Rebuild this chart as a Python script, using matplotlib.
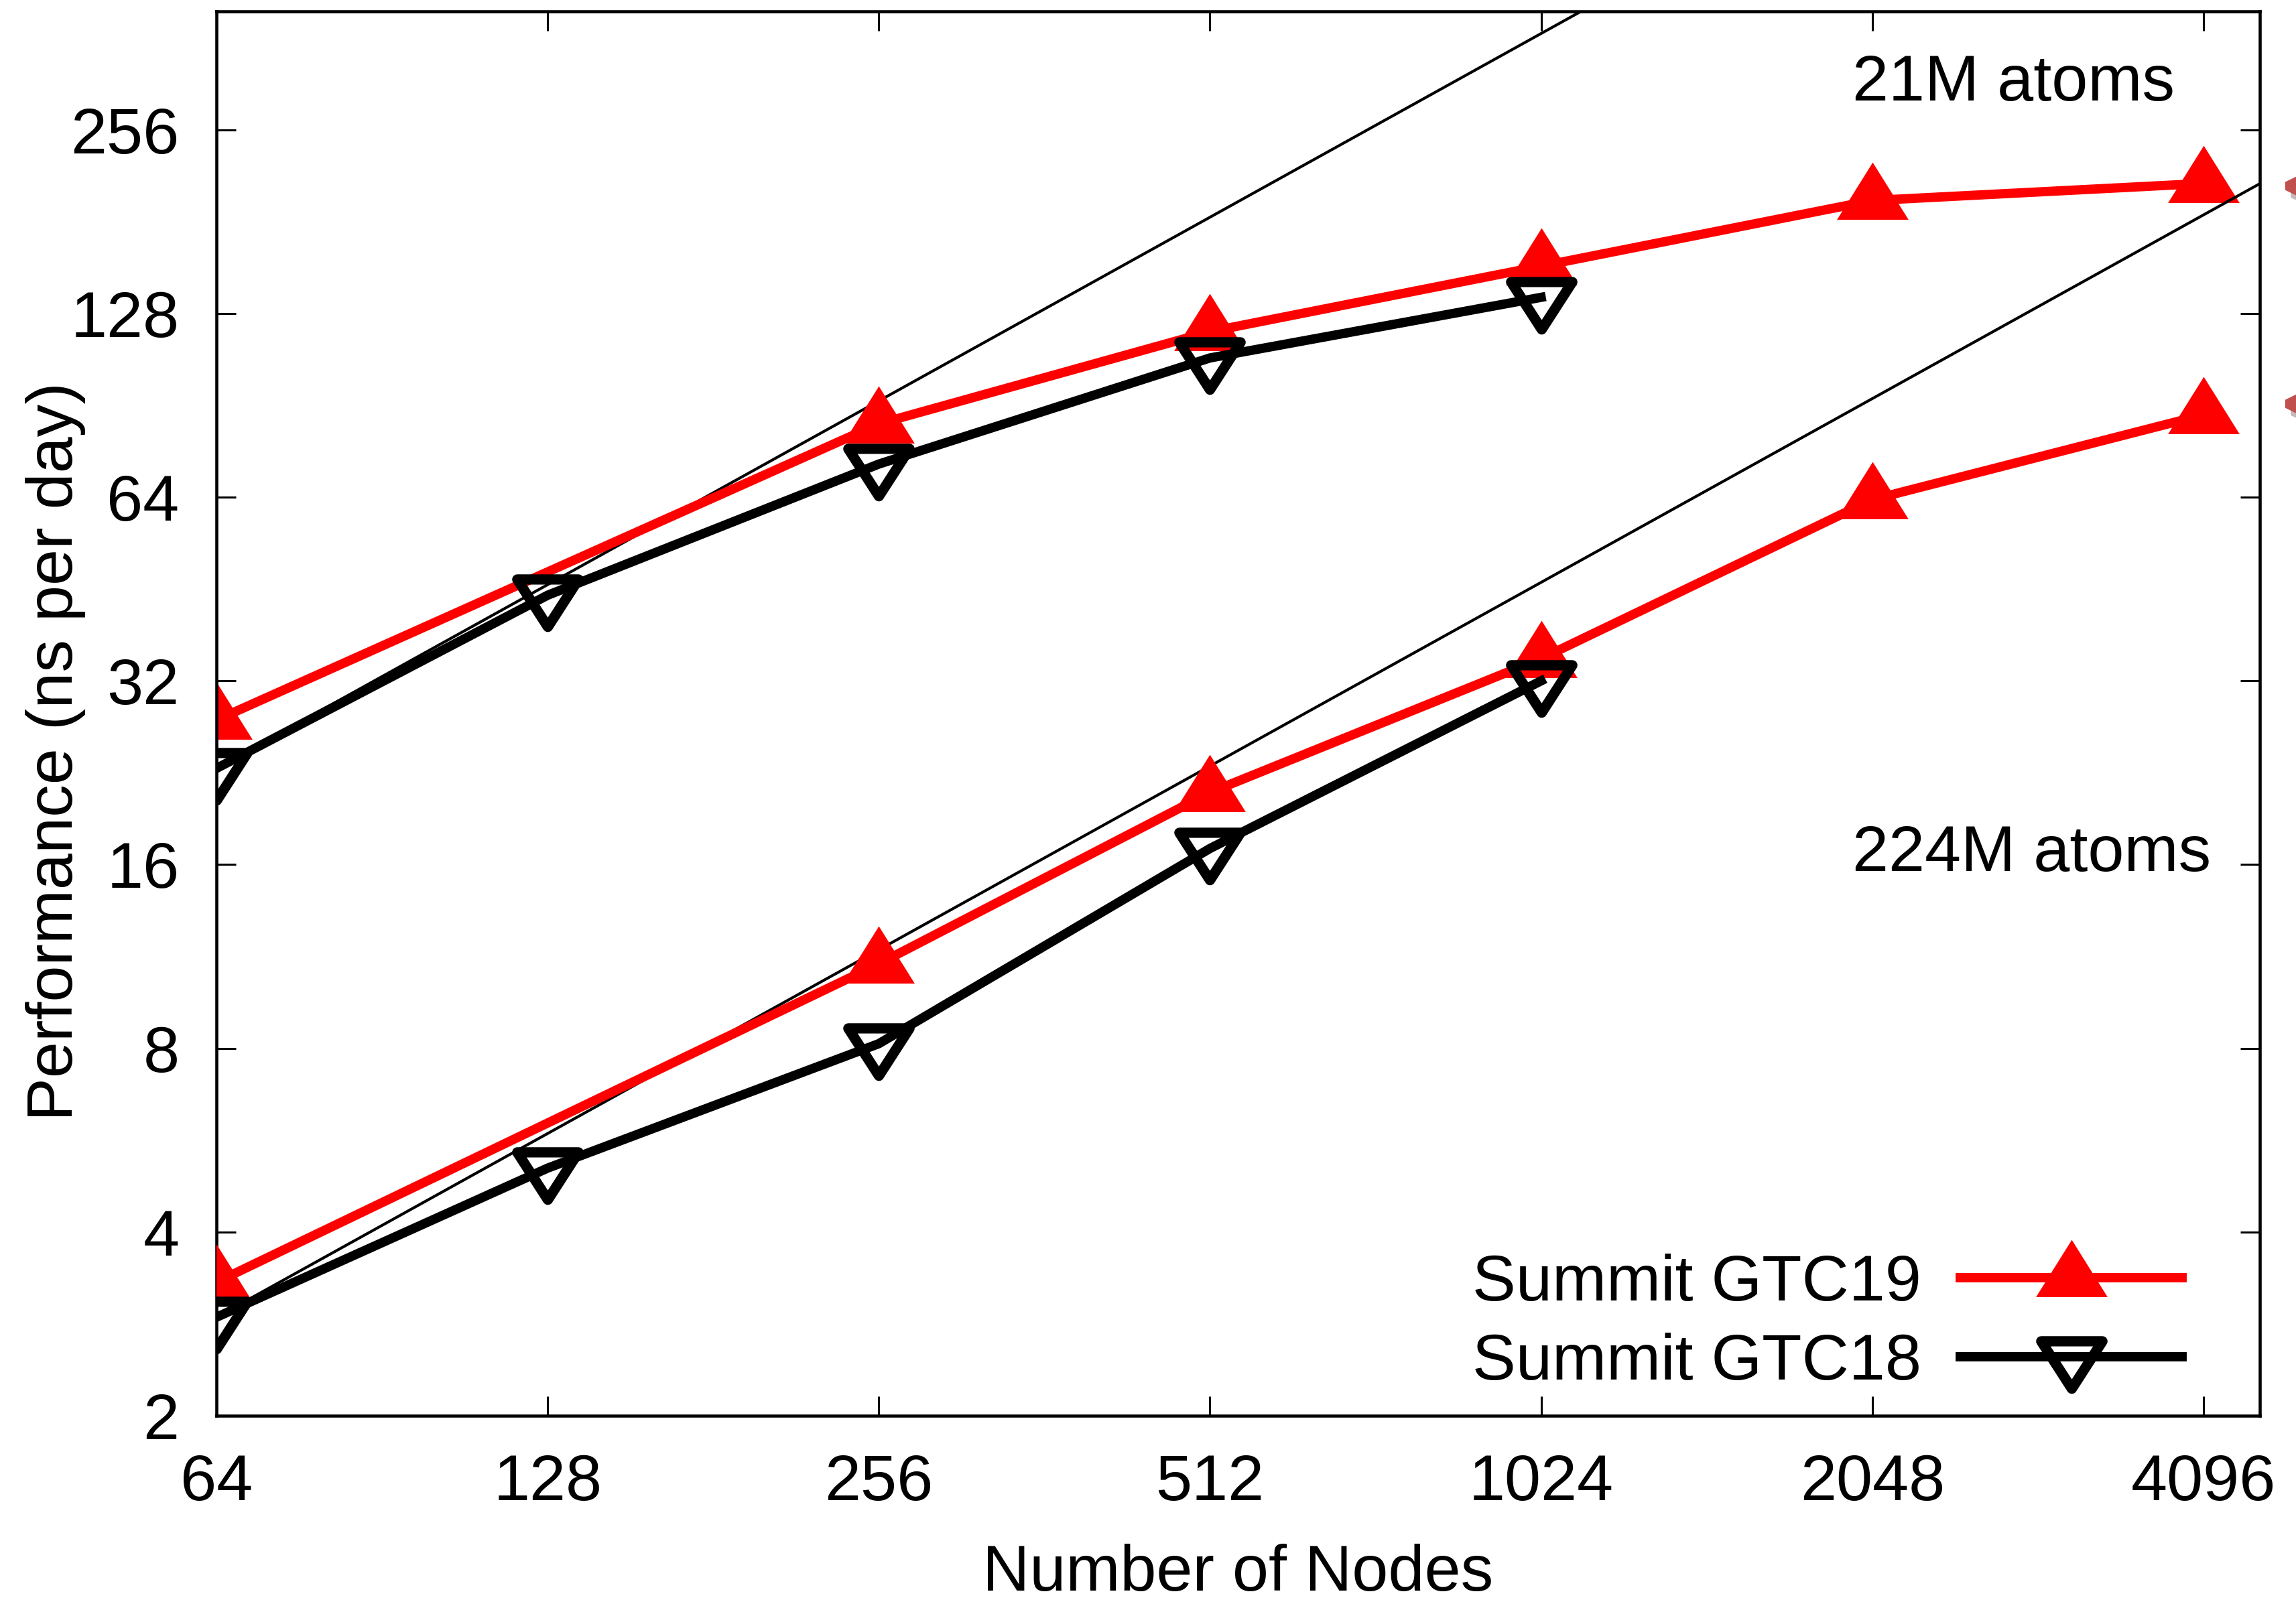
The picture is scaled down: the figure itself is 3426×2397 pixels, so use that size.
import numpy as np
import matplotlib
matplotlib.use("Agg")
import matplotlib.pyplot as plt
from matplotlib.path import Path
from matplotlib.patches import Polygon
from matplotlib.transforms import IdentityTransform
import matplotlib.patheffects as pe

plt.rcParams['font.family'] = ['Liberation Sans', 'DejaVu Sans']

# data (ns per day)
nodes_gtc19 = [64, 256, 512, 1024, 2048, 4096]
nodes_gtc18 = [64, 128, 256, 512, 1024]
gtc19_21m = [27.6, 84.4, 119.5, 153.0, 196.0, 209.0]
gtc18_21m = [23.0, 44.2, 72.5, 108.2, 136.0]
gtc19_224m = [3.31, 11.0, 21.0, 34.8, 63.4, 87.3]
gtc18_224m = [2.90, 5.09, 8.14, 17.0, 32.0]

xticks = [64, 128, 256, 512, 1024, 2048, 4096]
yticks = [2, 4, 8, 16, 32, 64, 128, 256]

# levels of the (cut-off) callout arrows at the right edge
arrow_y = [207, 91]

# gnuplot-like triangles, centred on their centroid
W, H = 2.0, 1.6
up_tri = Path([(0, 2 * H / 3), (-W / 2, -H / 3), (W / 2, -H / 3), (0, 2 * H / 3)],
              [Path.MOVETO, Path.LINETO, Path.LINETO, Path.CLOSEPOLY])
W2, H2 = 2.0, 1.55
down_tri = Path([(0, -2 * H2 / 3), (-W2 / 2, H2 / 3), (W2 / 2, H2 / 3), (0, -2 * H2 / 3)],
                [Path.MOVETO, Path.LINETO, Path.LINETO, Path.CLOSEPOLY])

fig = plt.figure(figsize=(17.13, 11.985), dpi=200)
ax = fig.add_axes([0.0943, 0.1185, 0.8899, 0.8744])

red_kw = dict(color='#ff0000', lw=5, marker=up_tri, ms=41, mew=0, solid_joinstyle='miter')
blk_kw = dict(color='black', lw=5, marker=down_tri, ms=34, mew=5.5, mfc='none',
              mec='black', solid_joinstyle='miter')

# ideal scaling lines from the GTC18 64-node runs
ideal_x = np.array([64, 8192])
ax.plot(ideal_x, gtc18_21m[0] * ideal_x / 64, color='black', lw=1.5, zorder=1)
ax.plot(nodes_gtc19, gtc19_21m, zorder=2, **red_kw)
ax.plot(nodes_gtc18, gtc18_21m, zorder=3, **blk_kw)
ax.plot(ideal_x, gtc18_224m[0] * ideal_x / 64, color='black', lw=1.5, zorder=4)
ax.plot(nodes_gtc19, gtc19_224m, zorder=5, label='Summit GTC19', **red_kw)
ax.plot(nodes_gtc18, gtc18_224m, zorder=6, label='Summit GTC18', **blk_kw)

ax.set_xscale('log', base=2)
ax.set_yscale('log', base=2)
ax.set_xlim(64, 4608)
ax.set_ylim(2, 400)
ax.set_xticks(xticks)
ax.set_xticklabels([str(v) for v in xticks])
ax.set_yticks(yticks)
ax.set_yticklabels([str(v) for v in yticks])
ax.minorticks_off()
ax.tick_params(axis='both', which='major', direction='in', top=True, right=True,
               length=10.5, width=1.1, labelsize=35)
ax.tick_params(axis='x', pad=20)
ax.tick_params(axis='y', pad=20)
for s in ax.spines.values():
    s.set_linewidth(1.65)

ax.set_xlabel('Number of Nodes', fontsize=35)
ax.set_ylabel('Performance (ns per day)', fontsize=35)
ax.xaxis.set_label_coords(0.5, -0.091)
ax.yaxis.set_label_coords(-0.064, 0.473)

ax.text(0.8006, 0.9485, '21M atoms', transform=ax.transAxes, fontsize=35,
        ha='left', va='center')
ax.text(0.8006, 0.400, '224M atoms', transform=ax.transAxes, fontsize=35,
        ha='left', va='center')

ax.legend(loc='lower right', bbox_to_anchor=(0.962, 0.016), frameon=False,
          markerfirst=False, numpoints=1, fontsize=35, handlelength=3.4,
          handletextpad=0.6, labelspacing=0.29, borderpad=0, borderaxespad=0)

# arrow tips poking in from the right edge (rest of the callouts is off the canvas)
for v in arrow_y:
    x0, y0 = ax.transData.transform((4860, v))
    tip = Polygon([(x0, y0 + 6), (x0, y0 - 6), (x0 + 45, y0 - 28), (x0 + 45, y0 + 28)],
                  closed=True, transform=IdentityTransform(), fc='#c0504d', ec='none')
    tip.set_path_effects([pe.SimplePatchShadow(offset=(3, -4), alpha=0.3), pe.Normal()])
    fig.add_artist(tip)

fig.savefig('out.png', dpi=200)
